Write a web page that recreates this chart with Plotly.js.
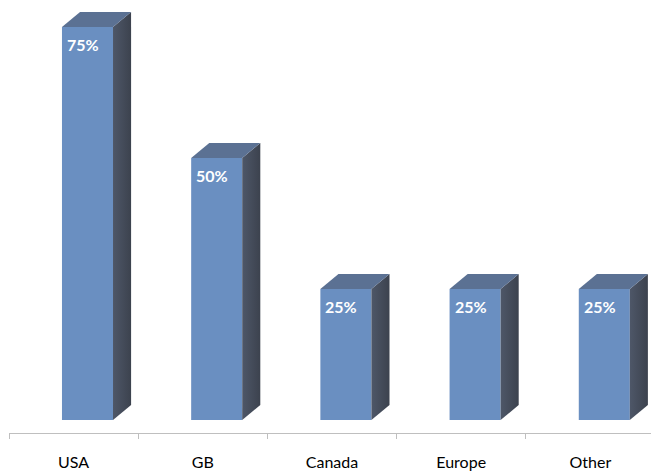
<!DOCTYPE html>
<html><head><meta charset="utf-8">
<script src="https://cdn.plot.ly/plotly-3.0.1.min.js"></script>
<style>html,body{margin:0;padding:0;background:#fff}#chart{width:651px;height:473px}</style>
</head><body><div id="chart"></div>
<script>
const categories = ["USA", "GB", "Canada", "Europe", "Other"];
const values = [75, 50, 25, 25, 25];
const labels = ["75%", "50%", "25%", "25%", "25%"];

const barLeft = -0.09, barW = 0.395;   // in category units
const depthX = 0.14, depthY = 2.85;     // 3D offsets (x units, value units)

const traces = [];
// front faces
traces.push({
  type: 'bar', x: categories.map((c, i) => i), y: values,
  width: barW, offset: barLeft,
  marker: {color: '#6a8fc1', line: {width: 0}},
  hoverinfo: 'skip', showlegend: false
});
categories.forEach((c, i) => {
  const L = i + barLeft, R = L + barW, v = values[i];
  // right side face
  traces.push({
    type: 'scatter', mode: 'lines', fill: 'toself',
    x: [R, R + depthX, R + depthX, R, R],
    y: [v, v + depthY, depthY, 0, v],
    line: {width: 0, color: 'rgba(0,0,0,0)'},
    fillcolor: '#474f5f',
    fillgradient: {type: 'horizontal', colorscale: [[0, '#4e5768'], [1, '#3c424e']]},
    hoverinfo: 'skip', showlegend: false
  });
  // top face
  traces.push({
    type: 'scatter', mode: 'lines', fill: 'toself',
    x: [L, L + depthX, R + depthX, R, L],
    y: [v, v + depthY, v + depthY, v, v],
    line: {width: 0, color: 'rgba(0,0,0,0)'},
    fillcolor: '#5b7193',
    hoverinfo: 'skip', showlegend: false
  });
});

const annotations = values.map((v, i) => ({
  x: i + barLeft + barW / 2 - 0.035, y: v - 3.4, xref: 'x', yref: 'y',
  text: labels[i], showarrow: false,
  font: {family: 'Lato, "Open Sans", sans-serif', size: 16, color: '#ffffff', weight: 'bold'}
}));

const layout = {
  width: 651, height: 473,
  margin: {l: 9, r: 0, t: 0, b: 40},
  paper_bgcolor: '#ffffff', plot_bgcolor: '#ffffff',
  showlegend: false,
  xaxis: {
    range: [-0.5, 4.469], showgrid: false, zeroline: false,
    showline: true, linecolor: '#bfbfbf', linewidth: 1,
    tickmode: 'array', tickvals: categories.map((c, i) => i), ticktext: categories,
    ticks: '', ticklabelstandoff: 15,
    tickfont: {family: 'Lato, "Open Sans", sans-serif', size: 16, color: '#000000'},
    minor: {tickmode: 'array', tickvals: [-0.5, 0.5, 1.5, 2.5, 3.5, 4.5], ticks: 'outside', ticklen: 5, tickcolor: '#bfbfbf', tickwidth: 1, showgrid: false}
  },
  yaxis: {range: [-2.48, 80.15], visible: false, showgrid: false, zeroline: false},
  annotations: annotations
};
Plotly.newPlot('chart', traces, layout, {displayModeBar: false, staticPlot: true});
</script></body></html>
